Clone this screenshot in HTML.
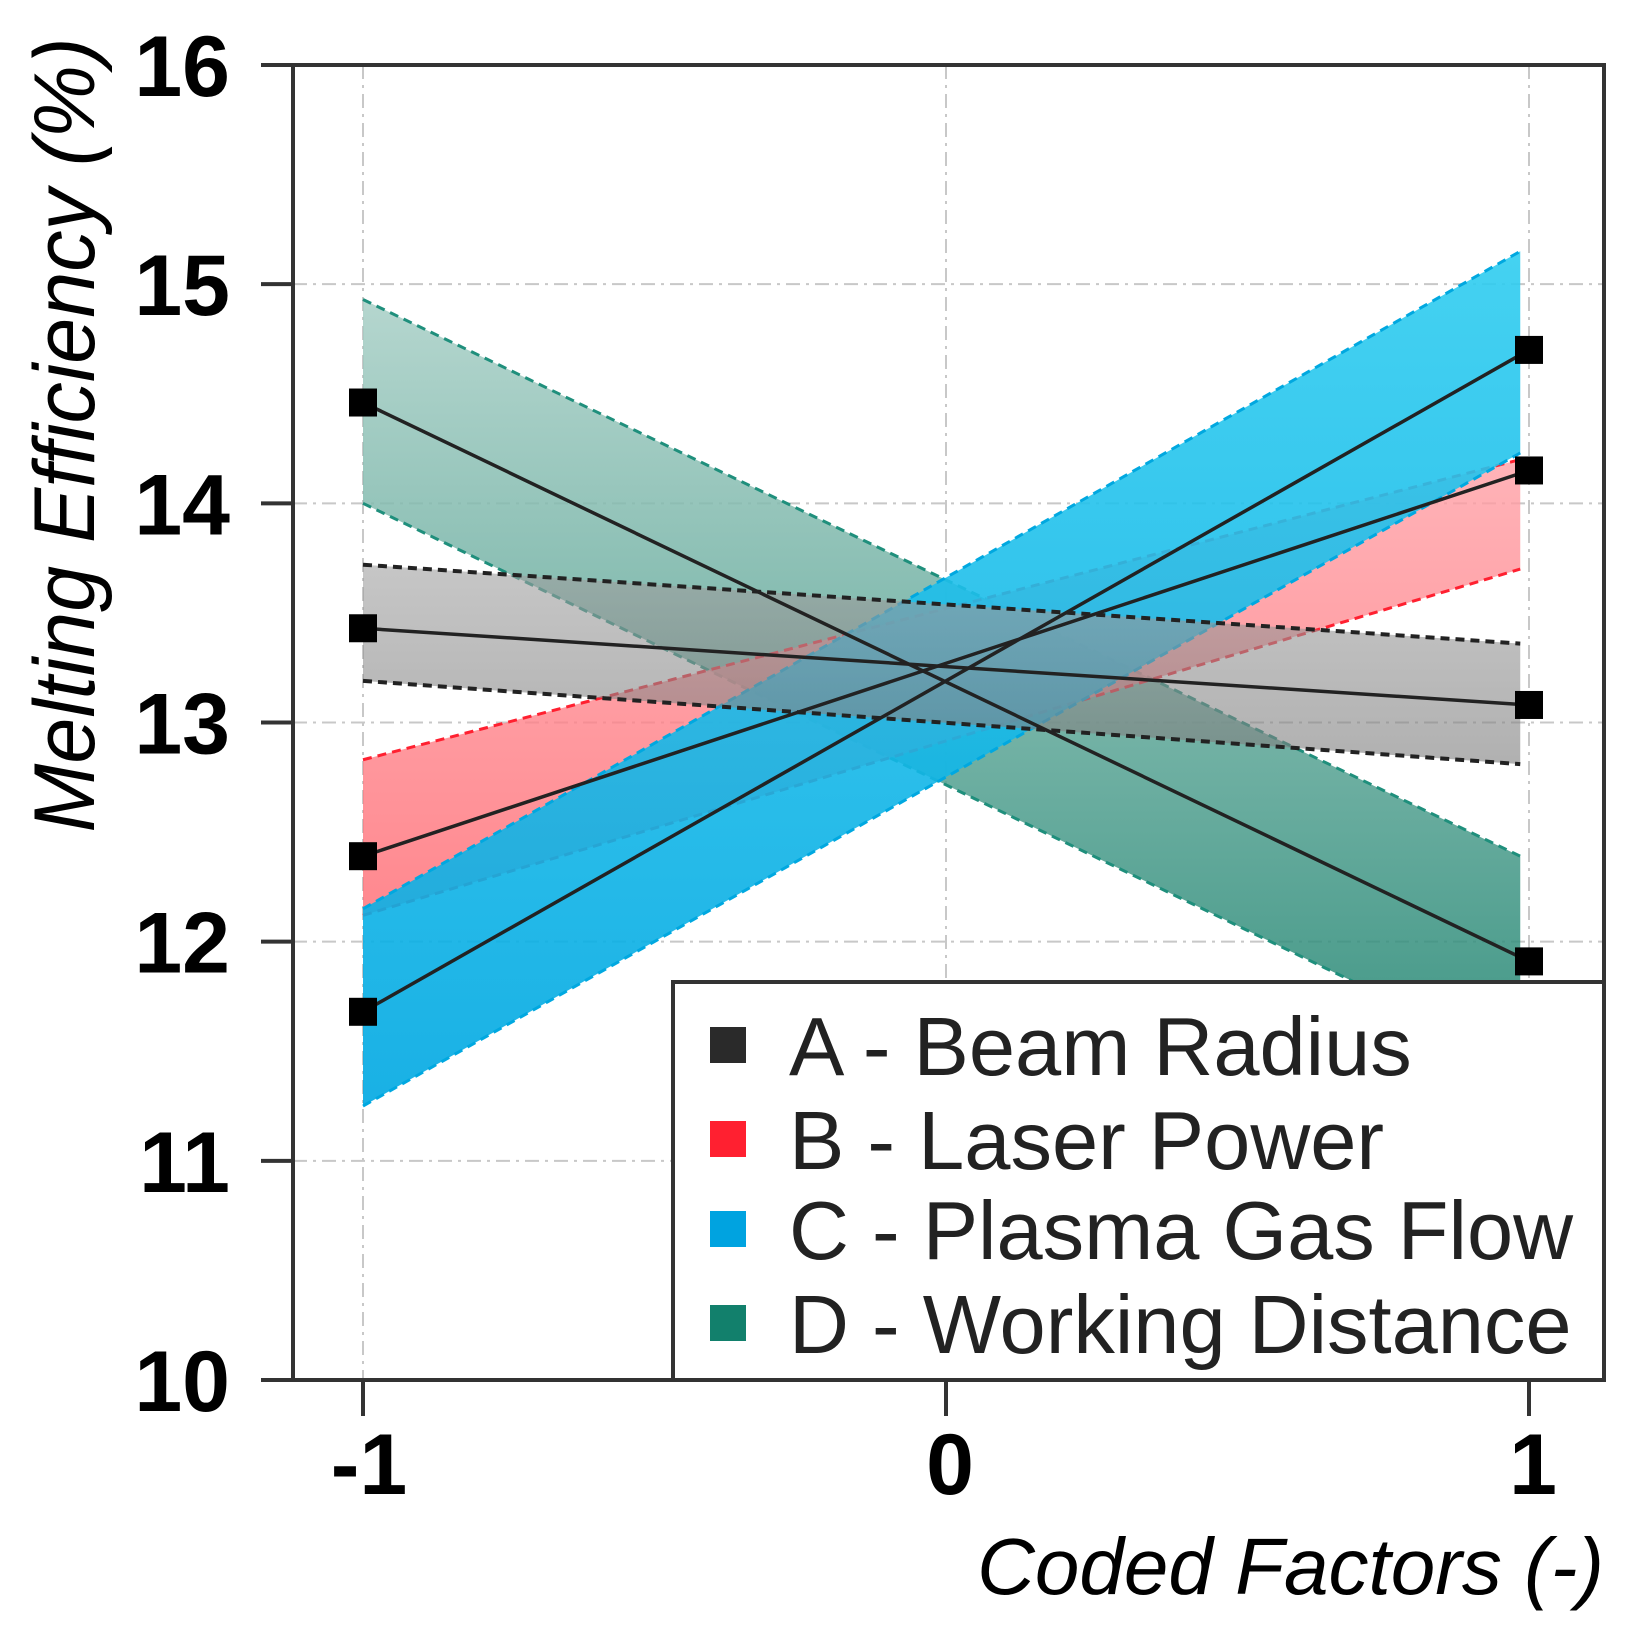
<!DOCTYPE html>
<html><head><meta charset="utf-8"><style>
html,body{margin:0;padding:0;background:#fff;}
svg{display:block;}
text{font-family:"Liberation Sans",Arial,sans-serif;}
</style></head><body>
<svg id="chart" width="1646" height="1650" viewBox="0 0 1646 1650" xmlns="http://www.w3.org/2000/svg">
<defs>
<linearGradient id="gD" x1="0" y1="0" x2="0" y2="1"><stop offset="0" stop-color="#a8cfc6"/><stop offset="1" stop-color="#1f8470"/></linearGradient>
<linearGradient id="gC" x1="0" y1="0" x2="0" y2="1"><stop offset="0" stop-color="#30cdf0"/><stop offset="1" stop-color="#00a8e2"/></linearGradient>
<linearGradient id="gB" x1="0" y1="0" x2="0" y2="1"><stop offset="0" stop-color="#ffa0a6"/><stop offset="1" stop-color="#ff6a72"/></linearGradient>
<linearGradient id="gA" x1="0" y1="0" x2="0" y2="1"><stop offset="0" stop-color="#a0a0a0"/><stop offset="1" stop-color="#7c7c7c"/></linearGradient>
</defs>
<g id="grid"></g>
<g id="bands"></g>
<g id="lines"></g>
<g id="axes"></g>
<g id="legend"></g>
</svg>
<script>
const xCats = [-1, 0, 1];
const yTicks = [10, 11, 12, 13, 14, 15, 16];
const seriesNames = ["A - Beam Radius", "B - Laser Power", "C - Plasma Gas Flow", "D - Working Distance"];
const meanLow = [13.43, 12.39, 11.68, 14.46];
const meanHigh = [13.08, 14.15, 14.70, 11.91];
const upperLow = [13.72, 12.83, 12.15, 14.93];
const upperHigh = [13.36, 14.20, 15.15, 12.39];
const lowerLow = [13.19, 12.12, 11.25, 14.00];
const lowerHigh = [12.81, 13.70, 14.23, 11.45];

const NS = "http://www.w3.org/2000/svg";
const L = 293, R = 1604, T = 65, B = 1380;
const X0 = 946, XH = 583;
function xs(v){ return X0 + v * XH; }
function ys(v){ return T + (16 - v) * (B - T) / 6; }
function mk(tag, attrs, parent){
  const e = document.createElementNS(NS, tag);
  for (const k in attrs) e.setAttribute(k, attrs[k]);
  parent.appendChild(e);
  return e;
}
const grid = document.getElementById('grid');
const bands = document.getElementById('bands');
const lines = document.getElementById('lines');
const axes = document.getElementById('axes');
const legend = document.getElementById('legend');

yTicks.forEach(t => {
  if (t > 10 && t < 16) {
    const g = mk('line', {x1:L, x2:R, y1:ys(t), y2:ys(t), stroke:'#c8c8c8', 'stroke-width':2, 'stroke-dasharray':'14 6 3 6'}, grid);
    
    
  }
  const tk = mk('line', {x1:L-32, x2:L, y1:ys(t), y2:ys(t), stroke:'#333', 'stroke-width':4}, axes);
  
  
  const lb = mk('text', {x:230, y:ys(t)+31, 'text-anchor':'end', 'font-size':86, 'font-weight':'bold', fill:'#000'}, axes);
  lb.textContent = t;
  
  
});
xCats.forEach(c => {
  const g = mk('line', {x1:xs(c), x2:xs(c), y1:T, y2:B, stroke:'#c8c8c8', 'stroke-width':2, 'stroke-dasharray':'14 6 3 6'}, grid);
  
  
  const tk = mk('line', {x1:xs(c), x2:xs(c), y1:B, y2:B+36, stroke:'#333', 'stroke-width':4}, axes);
  
  
  const lb = mk('text', {x:xs(c)+(c<0?6:4), y:1494, 'text-anchor':'middle', 'font-size':86, 'font-weight':'bold', fill:'#000'}, axes);
  lb.textContent = c;
  
  
});

const fills = ['url(#gA)', 'url(#gB)', 'url(#gC)', 'url(#gD)'];
const opac = [0.6, 0.8, 0.9, 0.85];
const edge = ['#222', '#ff2030', '#00a8e0', '#1f8f7c'];
const order = [3, 1, 2, 0];
const x1 = -1, x2 = 0.985;
order.forEach(i => {
  const p = mk('polygon', {points: [xs(x1)+','+ys(upperLow[i]), xs(x2)+','+ys(upperHigh[i]), xs(x2)+','+ys(lowerHigh[i]), xs(x1)+','+ys(lowerLow[i])].join(' '), fill:fills[i], 'fill-opacity':opac[i]}, bands);
  
  
  const u = mk('line', {x1:xs(x1), y1:ys(upperLow[i]), x2:xs(x2), y2:ys(upperHigh[i]), stroke:edge[i], 'stroke-width':i==0?4:3, 'stroke-dasharray':'9 6'}, bands);
  
  
  const d = mk('line', {x1:xs(x1), y1:ys(lowerLow[i]), x2:xs(x2), y2:ys(lowerHigh[i]), stroke:edge[i], 'stroke-width':i==0?4:3, 'stroke-dasharray':'9 6'}, bands);
  
  
});
for (let i = 0; i < 4; i++) {
  const ln = mk('line', {x1:xs(-1), y1:ys(meanLow[i]), x2:xs(1), y2:ys(meanHigh[i]), stroke:'#222', 'stroke-width':3.5}, lines);
  
  
  [[-1, meanLow[i]], [1, meanHigh[i]]].forEach(([c, v]) => {
    const m = mk('rect', {x:xs(c)-14, y:ys(v)-14, width:28, height:28, fill:'#000'}, lines);
    
    
  });
}
const frame = mk('rect', {x:L, y:T, width:R-L, height:B-T, fill:'none', stroke:'#333', 'stroke-width':4}, axes);



const lbox = mk('rect', {x:673, y:982, width:931, height:398, fill:'#fff', stroke:'#333', 'stroke-width':4}, legend);


const swatch = ['#2a2a2a', '#ff2030', '#00a3e0', '#12806c'];
const ly = [1045, 1139, 1229, 1323];
seriesNames.forEach((n, i) => {
  const s = mk('rect', {x:710, y:ly[i]-18, width:36, height:36, fill:swatch[i]}, legend);
  
  
  const t = mk('text', {x:789, y:ly[i]+30, 'font-size':83, fill:'#222'}, legend);
  t.textContent = n;
  
  
});
const yt = mk('text', {x:0, y:0, transform:'translate(94,435) rotate(-90)', 'text-anchor':'middle', 'font-size':86, 'font-style':'italic', fill:'#000', textLength:795, lengthAdjust:'spacingAndGlyphs'}, axes);
yt.textContent = 'Melting Efficiency (%)';


const xt = mk('text', {x:1604, y:1594, 'text-anchor':'end', 'font-size':80, 'font-style':'italic', fill:'#000'}, axes);
xt.textContent = 'Coded Factors (-)';


</script>
</body></html>
